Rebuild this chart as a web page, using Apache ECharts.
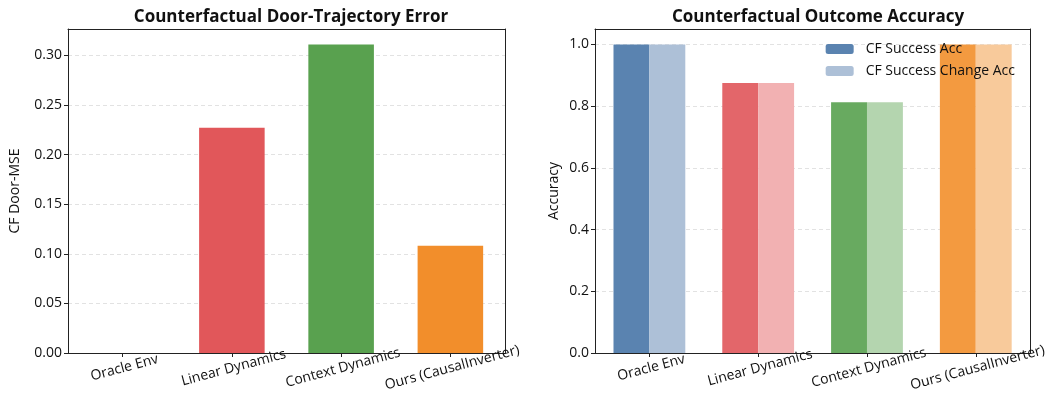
<!DOCTYPE html>
<html>
<head>
<meta charset="utf-8">
<script src="https://cdn.jsdelivr.net/npm/echarts@6/dist/echarts.min.js"></script>
<style>
  html, body { margin: 0; padding: 0; background: #fff; }
  #chart { width: 1049px; height: 400px; }
</style>
</head>
<body>
<div id="chart"></div>
<script>
// Methods compared in both panels
const methods = ['Oracle Env', 'Linear Dynamics', 'Context Dynamics', 'Ours (CausalInverter)'];

// Left panel: counterfactual door-trajectory MSE
const doorMse = [0.0, 0.227, 0.311, 0.108];

// Right panel: counterfactual outcome accuracies
const successAcc = [1.0, 0.875, 0.8125, 1.0];
const successChangeAcc = [1.0, 0.875, 0.8125, 1.0];

const seriesNames = ['CF Success Acc', 'CF Success Change Acc'];

// Per-method colours (strong and faded variants)
const leftColors = ['#4e79a7', '#e1575a', '#59a14f', '#f28e2b'];
const strongColors = ['#5a83b0', '#e3666a', '#68aa60', '#f39a40'];
const fadedColors = ['#adc0d7', '#f2b1b2', '#b4d5af', '#f8ca9b'];

const FONT = '"Open Sans", "Noto Sans", sans-serif';
const FS = 14;
const tickFmt2 = v => v.toFixed(2);
const tickFmt1 = v => v.toFixed(1);

const chart = echarts.init(document.getElementById('chart'), null, { renderer: 'canvas' });

const frameLine = { show: true, onZero: false, lineStyle: { color: '#222', width: 1 } };

function xAxisFor(gridIndex) {
  return {
    type: 'category',
    gridIndex,
    data: methods,
    axisLine: frameLine,
    axisTick: { show: true, alignWithLabel: true, length: 4, lineStyle: { color: '#222' } },
    axisLabel: {
      rotate: 15, align: 'center', verticalAlign: 'top', margin: 8,
      fontFamily: FONT, fontSize: FS, color: '#111', interval: 0
    },
    splitLine: { show: false }
  };
}

// Top edge of the frame
function xFrameFor(gridIndex) {
  return {
    type: 'category', gridIndex, position: 'top', data: methods,
    axisLine: frameLine, axisTick: { show: false }, axisLabel: { show: false }, splitLine: { show: false }
  };
}

function yAxisFor(gridIndex, max, interval, name, nameGap, fmt) {
  return {
    type: 'value',
    gridIndex,
    min: 0, max, interval,
    name, nameLocation: 'middle', nameGap,
    nameTextStyle: { fontFamily: FONT, fontSize: FS, color: '#111' },
    axisLine: frameLine,
    axisTick: { show: true, length: 4, lineStyle: { color: '#222' } },
    axisLabel: { formatter: fmt, fontFamily: FONT, fontSize: FS, color: '#111', margin: 6, showMaxLabel: false },
    splitLine: { show: true, lineStyle: { color: '#e2e2e2', type: [4, 3], width: 1 } }
  };
}

// Right edge of the frame
function yFrameFor(gridIndex, max) {
  return {
    type: 'value', gridIndex, position: 'right', min: 0, max,
    axisLine: frameLine, axisTick: { show: false }, axisLabel: { show: false }, splitLine: { show: false }
  };
}

const leftMax = Math.max(...doorMse) * 1.05;

chart.setOption({
  animation: false,
  backgroundColor: '#fff',
  title: [
    {
      text: 'Counterfactual Door-Trajectory Error',
      left: 286, top: 4, textAlign: 'center',
      textStyle: { fontFamily: FONT, fontSize: 17, fontWeight: 'bold', color: '#111' }
    },
    {
      text: 'Counterfactual Outcome Accuracy',
      left: 813, top: 4, textAlign: 'center',
      textStyle: { fontFamily: FONT, fontSize: 17, fontWeight: 'bold', color: '#111' }
    }
  ],
  legend: {
    orient: 'vertical',
    right: 29, top: 37,
    itemWidth: 28, itemHeight: 10, itemGap: 8,
    data: seriesNames,
    textStyle: { fontFamily: FONT, fontSize: FS, color: '#111', padding: [0, 0, 0, 7] },
    backgroundColor: 'rgba(255,255,255,0)'
  },
  grid: [
    { left: 68, top: 29, width: 437, height: 324 },
    { left: 595, top: 29, width: 437, height: 324 }
  ],
  xAxis: [xAxisFor(0), xAxisFor(1), xFrameFor(0), xFrameFor(1)],
  yAxis: [
    yAxisFor(0, leftMax, 0.05, 'CF Door-MSE', 46, tickFmt2),
    yAxisFor(1, 1.05, 0.2, 'Accuracy', 34, tickFmt1),
    yFrameFor(0, leftMax),
    yFrameFor(1, 1.05)
  ],
  series: [
    {
      type: 'bar', xAxisIndex: 0, yAxisIndex: 0,
      barWidth: '60%',
      data: doorMse.map((v, i) => ({ value: v, itemStyle: { color: leftColors[i] } }))
    },
    {
      name: seriesNames[0],
      type: 'bar', xAxisIndex: 1, yAxisIndex: 1,
      barWidth: '33%', barGap: '0%',
      itemStyle: { color: strongColors[0] },
      data: successAcc.map((v, i) => ({ value: v, itemStyle: { color: strongColors[i] } }))
    },
    {
      name: seriesNames[1],
      type: 'bar', xAxisIndex: 1, yAxisIndex: 1,
      barWidth: '33%', barGap: '0%',
      itemStyle: { color: fadedColors[0] },
      data: successChangeAcc.map((v, i) => ({ value: v, itemStyle: { color: fadedColors[i] } }))
    }
  ]
});
</script>
</body>
</html>
